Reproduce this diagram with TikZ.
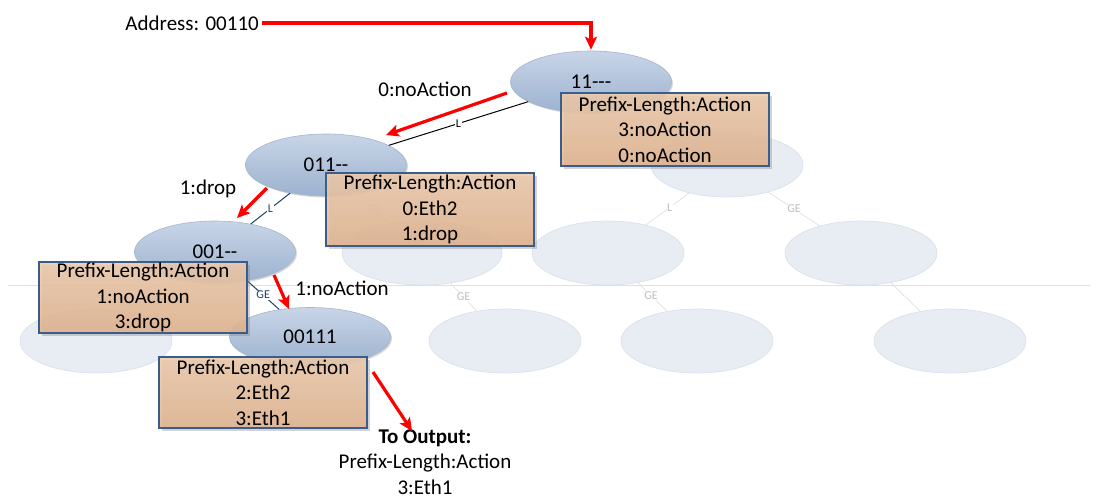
\documentclass[tikz,border=0pt]{standalone}
\usepackage{fontspec}
\setmainfont{Carlito}
\usetikzlibrary{shapes.geometric,arrows.meta,shadows}

\definecolor{nodetop}{HTML}{C8D5E7}
\definecolor{nodebot}{HTML}{9CB2CF}
\definecolor{nodeedge}{HTML}{A3B5CF}
\definecolor{boxtop}{HTML}{ECCAAC}
\definecolor{boxbot}{HTML}{E0B38F}
\definecolor{boxedge}{HTML}{3A5D8C}
\definecolor{ghostfill}{HTML}{E8EDF4}
\definecolor{ghostedge}{HTML}{DAE1EC}
\definecolor{ghostline}{HTML}{E0E0E0}
\definecolor{ghostlabel}{HTML}{BEBEBE}
\definecolor{linkblue}{HTML}{1F3F6E}
\definecolor{pathred}{HTML}{FF0000}

% a single hyphen that never joins into an en or em dash
\newcommand{\hy}{\mbox{-}}

\begin{document}
\begin{tikzpicture}[x=1pt,y=-1pt,
  bigfont/.style={font=\fontsize{21}{25.5}\selectfont},
  treenode/.style={ellipse, minimum width=161pt, minimum height=62pt, inner sep=0pt,
    top color=nodetop, bottom color=nodebot, draw=nodeedge, line width=0.6pt,
    drop shadow={shadow xshift=1.5pt, shadow yshift=-1.5pt, opacity=0.3}, bigfont},
  ghost/.style={ellipse, minimum width=152pt, minimum height=64pt, inner sep=0pt,
    fill=ghostfill, draw=ghostedge, line width=0.7pt},
  ghostlink/.style={draw=ghostline, line width=0.7pt},
  ghosttag/.style={text=ghostlabel, font=\fontsize{12}{12}\selectfont, inner sep=0.5pt},
  actbox/.style={rectangle, minimum width=208pt, minimum height=73pt, inner sep=0pt,
    top color=boxtop, bottom color=boxbot, fill opacity=0.88, text opacity=1,
    draw=boxedge, draw opacity=1, line width=1.1pt, align=center, bigfont,
    drop shadow={shadow xshift=2.5pt, shadow yshift=-2.5pt, opacity=0.35}},
  link/.style={line width=1pt},
  tag/.style={fill=white, inner sep=0.6pt, font=\fontsize{12}{12}\selectfont},
  pathlabel/.style={bigfont, inner sep=0pt},
  redpath/.style={draw=pathred, line width=3.2pt,
    -{Stealth[length=13pt,width=12pt,inset=3pt]}},
]
\useasboundingbox (0,0) rectangle (1102,499);

% pale background tree
\draw[ghostlink] (8,285) -- (1090,285);
\node[ghost] (g1) at (727,165) {};
\node[ghost, minimum width=160pt] (g2) at (422,253) {};
\node[ghost] (g3) at (608,253) {};
\node[ghost] (g4) at (861,253) {};
\node[ghost] (g5) at (96,341) {};
\node[ghost] (g6) at (505,341) {};
\node[ghost] (g7) at (697,341) {};
\node[ghost] (g8) at (950,341) {};
\draw[ghostlink] (g1) -- node[ghosttag, fill=white, pos=0.45] {L} (g3);
\draw[ghostlink] (g1) -- node[ghosttag, fill=white, pos=0.5] {GE} (g4);
\draw[ghostlink] (g3) -- node[ghosttag, fill=white, pos=0.45] {GE} (g7);
\draw[ghostlink] (g4) -- (g8);
\draw[ghostlink] (g2) -- node[ghosttag, fill=white, pos=0.5] {GE} (g6);

% search tree
\node[treenode] (root) at (591,82) {11\hy\hy\hy};
\node[treenode] (n011) at (326,165) {011\hy\hy};
\node[treenode] (n001) at (215,252) {001\hy\hy};
\node[treenode, minimum height=59pt] (n00111) at (310,337) {00111};

\draw[ghostlink] (n011) -- node[ghosttag, pos=0.5] {GE} (g2);
\draw[ghostlink] (n001) -- (g5);

\draw[link, black] (root) -- node[tag] {L} (n011);
\draw[link, linkblue] (n011) -- node[tag] {L} (n001);
\draw[link, linkblue] (n001) -- node[tag] {GE} (n00111);

% action tables
\node[actbox] (t11) at (665,129.5) {Prefix-Length:Action\\3:noAction\\0:noAction};
\node[actbox] (t011) at (430,209.5) {Prefix-Length:Action\\0:Eth2\\1:drop};
\node[actbox, minimum height=71pt] (t001) at (143,297.5) {Prefix-Length:Action\\1:noAction\\3:drop};
\node[actbox, minimum height=71pt] (t00111) at (263,392.5) {Prefix-Length:Action\\2:Eth2\\3:Eth1};

% lookup input and result
\node[pathlabel, anchor=east] (addr) at (259,23) {Address: 00110};
\node[bigfont, align=center, inner sep=0pt] (out) at (425,462)
  {\textbf{To Output:}\\Prefix-Length:Action\\3:Eth1};

% lookup path
\draw[draw=pathred, line width=3.2pt, -{Stealth[length=13pt,width=12pt,inset=3pt]},
  shorten <=3pt, shorten >=1pt] (addr.east) -| (root.north);

\coordinate (p1a) at (507,93);   \coordinate (p1b) at (386,135);
\coordinate (p2a) at (267,188);  \coordinate (p2b) at (237,218);
\coordinate (p3a) at (274,275);  \coordinate (p3b) at (289,309);
\coordinate (p4a) at (373,372);  \coordinate (p4b) at (412,431);
\draw[redpath] (p1a) -- (p1b);
\draw[redpath] (p2a) -- (p2b);
\draw[redpath] (p3a) -- (p3b);
\draw[redpath] (p4a) -- (p4b);

\node[pathlabel] (lab1) at (425,89) {0:noAction};
\node[pathlabel] (lab2) at (208,189) {1:drop};
\node[pathlabel] (lab3) at (342,288) {1:noAction};
\end{tikzpicture}
\end{document}
